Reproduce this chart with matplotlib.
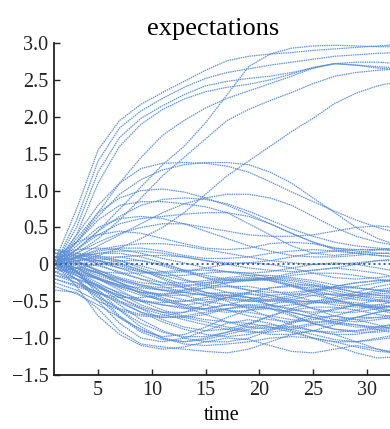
import matplotlib
matplotlib.use("Agg")
import matplotlib.pyplot as plt
from matplotlib.ticker import FixedLocator, FixedFormatter

time = [1, 3, 5, 7, 9, 11, 13, 15, 17, 19, 21, 23, 25, 27, 29, 31, 33]

# upper bundle
U1 = [0.05, 0.75, 1.55, 1.95, 2.17, 2.33, 2.48, 2.63, 2.76, 2.82, 2.85, 2.87, 2.9, 2.92, 2.94, 2.96, 2.98]
U2 = [0.0, 0.6, 1.4, 1.85, 2.08, 2.25, 2.4, 2.52, 2.6, 2.65, 2.7, 2.74, 2.78, 2.82, 2.84, 2.86, 2.87]
U3 = [0.0, 0.5, 1.25, 1.72, 1.98, 2.15, 2.3, 2.42, 2.48, 2.52, 2.55, 2.6, 2.66, 2.72, 2.74, 2.74, 2.72]
U4 = [0.0, 0.4, 1.1, 1.6, 1.9, 2.1, 2.24, 2.34, 2.4, 2.44, 2.5, 2.58, 2.67, 2.72, 2.7, 2.66, 2.64]
U5 = [0.0, 0.2, 0.45, 0.75, 1.05, 1.35, 1.6, 1.92, 2.3, 2.68, 2.85, 2.93, 2.96, 2.97, 2.96, 2.95, 2.95]
U6 = [0.0, 0.15, 0.35, 0.6, 0.9, 1.2, 1.45, 1.7, 1.95, 2.1, 2.22, 2.33, 2.45, 2.55, 2.6, 2.63, 2.65]
U7 = [0.0, 0.3, 0.7, 1.1, 1.45, 1.75, 1.95, 2.12, 2.25, 2.35, 2.45, 2.55, 2.66, 2.72, 2.7, 2.68, 2.66]
U8 = [0.0, 0.05, 0.12, 0.22, 0.35, 0.5, 0.7, 0.95, 1.2, 1.4, 1.6, 1.8, 1.98, 2.18, 2.32, 2.42, 2.48]

# humps
H1 = [0.0, 0.4, 0.8, 1.1, 1.3, 1.37, 1.38, 1.37, 1.33, 1.25, 1.12, 0.98, 0.85, 0.72, 0.6, 0.5, 0.42]
H2 = [0.0, 0.3, 0.65, 0.95, 1.15, 1.28, 1.35, 1.38, 1.38, 1.35, 1.25, 1.1, 0.9, 0.7, 0.5, 0.35, 0.25]
H3 = [0.0, 0.35, 0.7, 0.9, 1.0, 1.02, 0.98, 0.9, 0.8, 0.68, 0.55, 0.42, 0.3, 0.2, 0.15, 0.12, 0.1]
H4 = [0.0, 0.2, 0.45, 0.65, 0.8, 0.88, 0.9, 0.88, 0.82, 0.72, 0.6, 0.48, 0.38, 0.3, 0.25, 0.22, 0.2]
H5 = [0.0, 0.25, 0.5, 0.62, 0.65, 0.62, 0.55, 0.45, 0.35, 0.25, 0.18, 0.12, 0.1, 0.1, 0.12, 0.15, 0.15]
H6 = [0.0, 0.1, 0.25, 0.4, 0.55, 0.7, 0.82, 0.9, 0.95, 0.95, 0.9, 0.8, 0.65, 0.5, 0.38, 0.3, 0.25]
H7 = [0.0, 0.15, 0.3, 0.42, 0.5, 0.55, 0.55, 0.5, 0.45, 0.4, 0.38, 0.38, 0.4, 0.45, 0.5, 0.52, 0.5]
H8 = [0.1, 0.3, 0.4, 0.45, 0.42, 0.35, 0.28, 0.22, 0.2, 0.22, 0.28, 0.3, 0.28, 0.22, 0.18, 0.15, 0.15]
H9 = [0.0, 0.3, 0.6, 0.8, 0.85, 0.85, 0.82, 0.78, 0.7, 0.55, 0.4, 0.25, 0.15, 0.12, 0.15, 0.2, 0.22]
H10 = [0.0, 0.2, 0.4, 0.55, 0.62, 0.65, 0.68, 0.7, 0.7, 0.65, 0.55, 0.42, 0.3, 0.22, 0.2, 0.2, 0.2]

# dense band
B1 = [0.0, -0.3, -0.7, -0.95, -1.1, -1.15, -1.12, -1.05, -1.0, -1.02, -1.1, -1.18, -1.2, -1.15, -1.1, -1.15, -1.2]
B2 = [-0.35, -0.38, -0.6, -0.9, -1.08, -1.12, -1.15, -1.18, -1.2, -1.15, -1.05, -0.95, -0.9, -0.95, -1.05, -1.15, -1.22]
B3 = [0.0, -0.2, -0.5, -0.8, -1.0, -1.05, -1.0, -0.9, -0.8, -0.75, -0.8, -0.9, -1.0, -1.1, -1.2, -1.27, -1.25]
B4 = [0.1, -0.1, -0.4, -0.7, -0.9, -0.98, -0.95, -0.85, -0.72, -0.62, -0.6, -0.65, -0.72, -0.8, -0.85, -0.85, -0.8]
B5 = [0.0, -0.15, -0.35, -0.55, -0.75, -0.9, -1.0, -1.05, -1.05, -1.0, -0.9, -0.8, -0.72, -0.7, -0.75, -0.82, -0.9]
B6 = [0.0, -0.1, -0.3, -0.5, -0.65, -0.72, -0.72, -0.68, -0.6, -0.55, -0.55, -0.6, -0.68, -0.75, -0.78, -0.75, -0.7]
B7 = [0.05, -0.05, -0.2, -0.35, -0.5, -0.62, -0.7, -0.75, -0.78, -0.8, -0.85, -0.92, -1.0, -1.05, -1.05, -1.0, -0.95]
B8 = [-0.1, -0.25, -0.45, -0.6, -0.68, -0.7, -0.65, -0.55, -0.45, -0.4, -0.42, -0.5, -0.6, -0.7, -0.75, -0.72, -0.68]
B9 = [0.0, -0.05, -0.15, -0.25, -0.35, -0.45, -0.55, -0.62, -0.65, -0.62, -0.55, -0.48, -0.42, -0.4, -0.42, -0.48, -0.55]
B10 = [0.1, 0.05, -0.1, -0.25, -0.4, -0.5, -0.55, -0.52, -0.45, -0.38, -0.32, -0.3, -0.32, -0.38, -0.45, -0.5, -0.52]
B11 = [0.0, -0.1, -0.2, -0.3, -0.38, -0.42, -0.42, -0.4, -0.38, -0.4, -0.45, -0.52, -0.6, -0.65, -0.65, -0.6, -0.55]
B12 = [0.2, 0.15, 0.05, -0.05, -0.15, -0.25, -0.32, -0.38, -0.42, -0.45, -0.48, -0.5, -0.5, -0.48, -0.42, -0.35, -0.3]
B13 = [0.0, 0.05, 0.08, 0.05, -0.02, -0.1, -0.2, -0.3, -0.38, -0.45, -0.5, -0.52, -0.5, -0.45, -0.38, -0.3, -0.25]
B14 = [0.1, 0.15, 0.12, 0.05, -0.05, -0.15, -0.22, -0.25, -0.25, -0.22, -0.2, -0.22, -0.28, -0.35, -0.42, -0.45, -0.45]
B15 = [0.0, 0.1, 0.15, 0.15, 0.1, 0.02, -0.08, -0.18, -0.28, -0.35, -0.38, -0.38, -0.35, -0.3, -0.25, -0.22, -0.2]
B16 = [-0.2, -0.3, -0.4, -0.45, -0.45, -0.42, -0.35, -0.28, -0.22, -0.2, -0.22, -0.28, -0.35, -0.42, -0.48, -0.5, -0.48]
B17 = [0.0, -0.05, -0.1, -0.12, -0.12, -0.1, -0.08, -0.08, -0.1, -0.15, -0.22, -0.3, -0.38, -0.42, -0.42, -0.38, -0.32]
B18 = [0.15, 0.2, 0.22, 0.2, 0.15, 0.08, 0.02, -0.05, -0.1, -0.12, -0.1, -0.05, 0.0, 0.02, 0.0, -0.05, -0.1]
B19 = [-0.05, 0.0, 0.05, 0.1, 0.12, 0.12, 0.1, 0.05, 0.0, -0.05, -0.08, -0.1, -0.08, -0.05, 0.0, 0.05, 0.08]
B20 = [0.05, 0.1, 0.18, 0.22, 0.22, 0.18, 0.12, 0.08, 0.08, 0.1, 0.15, 0.18, 0.2, 0.18, 0.15, 0.12, 0.1]
B21 = [0.0, -0.1, -0.25, -0.4, -0.55, -0.65, -0.72, -0.78, -0.85, -0.9, -0.95, -0.95, -0.9, -0.82, -0.72, -0.65, -0.6]
B22 = [-0.1, -0.2, -0.32, -0.42, -0.5, -0.55, -0.58, -0.6, -0.62, -0.65, -0.7, -0.75, -0.78, -0.78, -0.72, -0.65, -0.6]
B23 = [0.0, -0.15, -0.3, -0.42, -0.5, -0.52, -0.5, -0.45, -0.42, -0.45, -0.55, -0.68, -0.8, -0.88, -0.9, -0.88, -0.82]
B24 = [0.05, -0.05, -0.18, -0.3, -0.38, -0.4, -0.38, -0.32, -0.25, -0.2, -0.18, -0.2, -0.25, -0.32, -0.38, -0.42, -0.42]
B25 = [-0.15, -0.25, -0.38, -0.52, -0.65, -0.78, -0.88, -0.95, -0.98, -0.95, -0.88, -0.78, -0.68, -0.6, -0.55, -0.55, -0.58]
B26 = [0.0, -0.2, -0.42, -0.62, -0.8, -0.92, -0.98, -0.98, -0.92, -0.82, -0.7, -0.6, -0.52, -0.5, -0.52, -0.58, -0.65]
B27 = [0.1, 0.0, -0.12, -0.25, -0.35, -0.42, -0.48, -0.55, -0.62, -0.7, -0.75, -0.78, -0.75, -0.7, -0.62, -0.55, -0.5]
B28 = [-0.05, -0.12, -0.2, -0.28, -0.32, -0.35, -0.38, -0.42, -0.5, -0.6, -0.72, -0.82, -0.9, -0.95, -0.95, -0.9, -0.85]
B29 = [0.2, 0.12, 0.0, -0.12, -0.2, -0.25, -0.25, -0.22, -0.18, -0.15, -0.15, -0.18, -0.22, -0.28, -0.32, -0.35, -0.38]
B30 = [0.0, 0.05, 0.05, 0.0, -0.08, -0.18, -0.28, -0.38, -0.45, -0.5, -0.5, -0.45, -0.38, -0.3, -0.25, -0.22, -0.22]
B31 = [-0.25, -0.35, -0.5, -0.62, -0.7, -0.72, -0.7, -0.65, -0.6, -0.58, -0.6, -0.65, -0.72, -0.78, -0.82, -0.85, -0.88]
B32 = [0.0, -0.08, -0.18, -0.28, -0.38, -0.48, -0.58, -0.68, -0.78, -0.85, -0.88, -0.85, -0.8, -0.75, -0.72, -0.72, -0.75]
B33 = [0.1, 0.12, 0.1, 0.02, -0.08, -0.2, -0.32, -0.42, -0.48, -0.5, -0.48, -0.42, -0.35, -0.32, -0.32, -0.35, -0.4]
B34 = [0.0, 0.1, 0.2, 0.25, 0.28, 0.28, 0.25, 0.2, 0.15, 0.1, 0.05, 0.02, 0.0, 0.0, 0.02, 0.05, 0.05]
B35 = [-0.1, -0.05, 0.0, 0.05, 0.05, 0.0, -0.08, -0.15, -0.2, -0.22, -0.2, -0.15, -0.12, -0.12, -0.15, -0.2, -0.25]
B36 = [0.0, -0.12, -0.28, -0.45, -0.6, -0.75, -0.85, -0.9, -0.88, -0.8, -0.7, -0.62, -0.58, -0.58, -0.62, -0.68, -0.72]
B37 = [0.05, -0.02, -0.12, -0.22, -0.3, -0.35, -0.35, -0.32, -0.3, -0.3, -0.35, -0.42, -0.5, -0.55, -0.58, -0.58, -0.55]
B38 = [-0.3, -0.4, -0.55, -0.72, -0.88, -1.0, -1.05, -1.02, -0.95, -0.88, -0.85, -0.88, -0.95, -1.02, -1.05, -1.02, -0.98]
B39 = [0.0, 0.08, 0.15, 0.18, 0.18, 0.15, 0.1, 0.05, 0.02, 0.02, 0.05, 0.1, 0.15, 0.18, 0.2, 0.2, 0.18]
B40 = [0.15, 0.05, -0.08, -0.2, -0.28, -0.32, -0.3, -0.25, -0.2, -0.18, -0.2, -0.28, -0.38, -0.48, -0.55, -0.58, -0.58]
B41 = [-0.05, -0.2, -0.45, -0.72, -0.92, -1.02, -1.05, -1.0, -0.92, -0.85, -0.82, -0.85, -0.9, -0.92, -0.9, -0.85, -0.8]
B42 = [0.05, -0.1, -0.35, -0.62, -0.85, -1.0, -1.08, -1.1, -1.08, -1.05, -1.0, -0.98, -1.0, -1.05, -1.12, -1.18, -1.2]
B43 = [0.0, -0.08, -0.2, -0.32, -0.42, -0.48, -0.5, -0.48, -0.45, -0.48, -0.55, -0.62, -0.65, -0.62, -0.55, -0.48, -0.45]
B44 = [0.1, 0.02, -0.08, -0.18, -0.25, -0.28, -0.28, -0.28, -0.3, -0.35, -0.42, -0.48, -0.52, -0.5, -0.45, -0.4, -0.38]
B45 = [-0.15, -0.2, -0.28, -0.38, -0.48, -0.55, -0.6, -0.6, -0.55, -0.48, -0.42, -0.4, -0.42, -0.48, -0.55, -0.62, -0.68]
B46 = [0.0, 0.02, -0.02, -0.1, -0.2, -0.3, -0.38, -0.42, -0.42, -0.38, -0.32, -0.28, -0.28, -0.32, -0.38, -0.42, -0.45]
B47 = [0.05, 0.08, 0.05, -0.02, -0.1, -0.15, -0.15, -0.12, -0.1, -0.12, -0.18, -0.25, -0.3, -0.32, -0.3, -0.25, -0.2]
B48 = [-0.2, -0.28, -0.38, -0.5, -0.6, -0.68, -0.75, -0.82, -0.88, -0.92, -0.92, -0.88, -0.82, -0.8, -0.82, -0.88, -0.95]
B49 = [0.0, -0.05, -0.12, -0.2, -0.28, -0.35, -0.42, -0.5, -0.55, -0.58, -0.58, -0.55, -0.52, -0.52, -0.55, -0.6, -0.65]
B50 = [0.15, 0.1, 0.02, -0.05, -0.1, -0.12, -0.1, -0.05, 0.0, 0.02, 0.0, -0.05, -0.12, -0.18, -0.2, -0.18, -0.15]
B51 = [-0.05, -0.15, -0.3, -0.45, -0.58, -0.65, -0.65, -0.6, -0.55, -0.55, -0.6, -0.7, -0.8, -0.88, -0.92, -0.92, -0.88]
B52 = [0.0, 0.05, 0.1, 0.1, 0.05, -0.02, -0.1, -0.18, -0.22, -0.22, -0.18, -0.12, -0.08, -0.05, -0.08, -0.12, -0.18]

series = [U1, U2, U3, U4, U5, U6, U7, U8,
          H1, H2, H3, H4, H5, H6, H7, H8, H9, H10,
          B1, B2, B3, B4, B5, B6, B7, B8, B9, B10, B11, B12, B13, B14, B15, B16, B17, B18, B19, B20,
          B21, B22, B23, B24, B25, B26, B27, B28, B29, B30, B31, B32, B33, B34, B35, B36, B37, B38, B39, B40,
          B41, B42, B43, B44, B45, B46, B47, B48, B49, B50, B51, B52]

zero_line = [0.0] * len(time)

y_ticks = [-1.5, -1.0, -0.5, 0, 0.5, 1.0, 1.5, 2.0, 2.5, 3.0]
y_labels = ["\u22121.5", "\u22121.0", "\u22120.5", "0", "0.5", "1.0", "1.5", "2.0", "2.5", "3.0"]
x_ticks = [5, 10, 15, 20, 25, 30]
x_labels = ["5", "10", "15", "20", "25", "30"]

plt.rcParams['font.family'] = ['Liberation Serif', 'DejaVu Serif']

fig = plt.figure(figsize=(3.9, 4.29), dpi=100)
ax = fig.add_axes([54/390, 1 - 375/429, 1 - 54/390, (375 - 43)/429])

line_color = '#5b8fd5'
for s in series:
    ax.plot(time, s, color=line_color, lw=0.9, linestyle=(0, (1.2, 0.6)), alpha=0.95)
ax.plot(time, zero_line, color='#3d5f8f', lw=1.4, linestyle=(0, (1, 1.6)))

ax.set_xlim(0.9, 32.15)
ax.set_ylim(-1.5, 3.0)
ax.yaxis.set_major_locator(FixedLocator(y_ticks))
ax.yaxis.set_major_formatter(FixedFormatter(y_labels))
ax.xaxis.set_major_locator(FixedLocator(x_ticks))
ax.xaxis.set_major_formatter(FixedFormatter(x_labels))

for sp in ['top', 'right']:
    ax.spines[sp].set_visible(False)
for sp in ['left', 'bottom']:
    ax.spines[sp].set_linewidth(1.3)
    ax.spines[sp].set_color('#222222')

ax.tick_params(direction='in', length=4, width=1.0, labelsize=14.5, colors='#222222', pad=4)
ax.set_xlabel('time', fontsize=14.5, labelpad=5)
ax.set_title('expectations', fontsize=19, x=0.475, pad=6)

fig.savefig('out.png', dpi=100)
